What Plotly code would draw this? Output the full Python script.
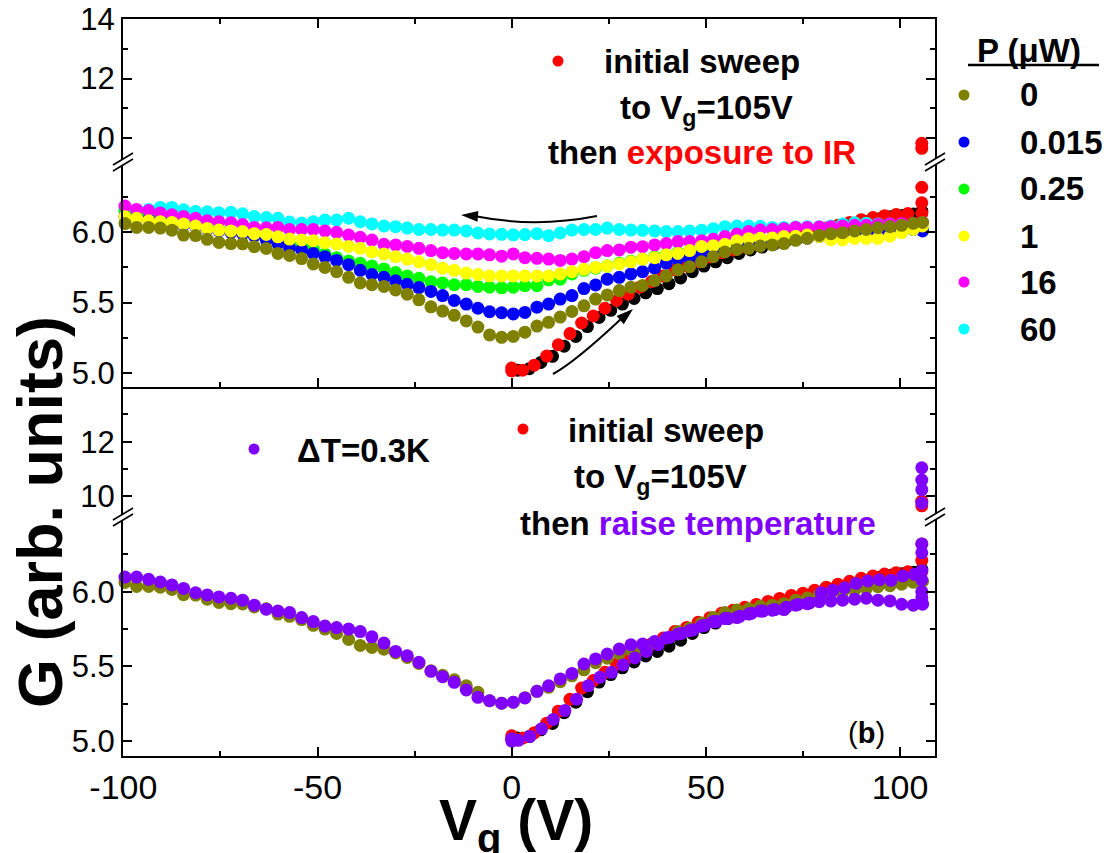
import plotly.graph_objects as go

# ---------------- data ----------------
# gate voltage grid of the return sweeps (V)
V_SWEEP = [-99.6, -96.6, -93.5, -90.5, -87.5, -84.5, -81.4, -78.4, -75.4, -72.3,
           -69.3, -66.3, -63.2, -60.2, -57.2, -54.1, -51.1, -48.1, -45.1, -42.0,
           -39.0, -36.0, -32.9, -29.9, -26.9, -23.9, -20.8, -17.8, -14.8, -11.7,
           -8.7, -5.7, -2.6, 0.4, 3.4, 6.5, 9.5, 12.5, 15.5, 18.6,
           21.6, 24.6, 27.7, 30.7, 33.7, 36.8, 39.8, 42.8, 45.8, 48.9,
           51.9, 54.9, 58.0, 61.0, 64.0, 67.1, 70.1, 73.1, 76.1, 79.2,
           82.2, 85.2, 88.3, 91.3, 94.3, 97.4, 100.4, 103.4, 105.8]

# conductance after IR exposure, one list per power P (uW)
G_P0 = [6.062, 6.035, 6.035, 6.03, 6.015, 5.98, 5.977, 5.95, 5.928, 5.92,
        5.918, 5.898, 5.885, 5.85, 5.835, 5.813, 5.775, 5.75, 5.72, 5.68,
        5.64, 5.627, 5.615, 5.59, 5.56, 5.52, 5.47, 5.44, 5.41, 5.37,
        5.326, 5.27, 5.253, 5.26, 5.29, 5.333, 5.36, 5.397, 5.437, 5.477,
        5.525, 5.555, 5.586, 5.61, 5.622, 5.657, 5.69, 5.733, 5.756, 5.79,
        5.827, 5.86, 5.878, 5.886, 5.902, 5.91, 5.92, 5.943, 5.957, 5.978,
        5.99, 5.997, 6.01, 6.02, 6.033, 6.04, 6.05, 6.064, 6.07]
G_P0015 = [6.11, 6.10, 6.09, 6.08, 6.07, 6.055, 6.04, 6.025, 6.01, 6.0,
           5.99, 5.974, 5.945, 5.92, 5.89, 5.875, 5.85, 5.827, 5.80, 5.77,
           5.73, 5.70, 5.68, 5.655, 5.63, 5.607, 5.58, 5.55, 5.515, 5.49,
           5.46, 5.435, 5.428, 5.42, 5.43, 5.468, 5.49, 5.525, 5.55, 5.60,
           5.626, 5.667, 5.68, 5.704, 5.72, 5.745, 5.78, 5.81, 5.815, 5.84,
           5.85, 5.87, 5.885, 5.90, 5.915, 5.925, 5.94, 5.95, 5.96, 5.97,
           5.98, 5.99, 5.995, 6.0, 6.005, 6.01, 6.015, 6.02, 6.01]
G_P025 = [6.153, 6.13, 6.115, 6.10, 6.085, 6.07, 6.055, 6.04, 6.025, 6.01,
          5.995, 5.98, 5.965, 5.945, 5.925, 5.905, 5.88, 5.846, 5.82, 5.796,
          5.78, 5.76, 5.74, 5.714, 5.69, 5.673, 5.648, 5.64, 5.627, 5.627,
          5.615, 5.61, 5.605, 5.61, 5.62, 5.62, 5.662, 5.667, 5.704, 5.73,
          5.745, 5.76, 5.78, 5.795, 5.81, 5.825, 5.84, 5.855, 5.87, 5.885,
          5.895, 5.905, 5.915, 5.925, 5.935, 5.945, 5.955, 5.96, 5.965, 5.975,
          5.985, 5.99, 5.995, 6.0, 6.005, 6.01, 6.015, 6.02, 6.03]
G_P1 = [6.11, 6.10, 6.082, 6.075, 6.07, 6.06, 6.045, 6.028, 6.016, 6.01,
        6.005, 5.99, 5.985, 5.968, 5.952, 5.946, 5.94, 5.926, 5.917, 5.90,
        5.886, 5.86, 5.846, 5.827, 5.81, 5.79, 5.77, 5.745, 5.73, 5.71,
        5.70, 5.69, 5.69, 5.69, 5.69, 5.69, 5.69, 5.704, 5.72, 5.737,
        5.75, 5.76, 5.775, 5.79, 5.81, 5.82, 5.84, 5.85, 5.87, 5.90,
        5.905, 5.915, 5.94, 5.955, 5.957, 5.96, 5.97, 5.972, 5.98, 5.97,
        5.948, 5.946, 5.957, 5.957, 5.957, 5.972, 5.997, 6.02, 6.045]
G_P16 = [6.187, 6.163, 6.155, 6.138, 6.125, 6.113, 6.10, 6.082, 6.075, 6.068,
         6.055, 6.035, 6.032, 6.035, 6.02, 6.02, 6.02, 6.01, 6.0, 5.98,
         5.964, 5.945, 5.915, 5.91, 5.90, 5.886, 5.87, 5.855, 5.85, 5.846,
         5.846, 5.84, 5.83, 5.846, 5.82, 5.815, 5.81, 5.80, 5.81, 5.827,
         5.855, 5.87, 5.875, 5.894, 5.898, 5.91, 5.92, 5.934, 5.934, 5.94,
         5.95, 5.97, 5.988, 6.005, 6.016, 6.02, 6.025, 6.035, 6.035, 6.038,
         6.04, 6.045, 6.05, 6.05, 6.055, 6.06, 6.062, 6.065, 6.07]
G_P60 = [6.165, 6.158, 6.163, 6.177, 6.177, 6.16, 6.148, 6.146, 6.14, 6.142,
         6.132, 6.112, 6.105, 6.10, 6.073, 6.066, 6.075, 6.087, 6.087, 6.10,
         6.075, 6.06, 6.045, 6.04, 6.03, 6.02, 6.02, 6.016, 6.016, 6.01,
         5.995, 5.988, 5.986, 5.982, 5.984, 5.99, 5.976, 5.995, 6.016, 6.02,
         6.02, 6.03, 6.02, 6.016, 6.014, 6.01, 6.005, 6.005, 6.01, 6.015,
         6.025, 6.04, 6.045, 6.045, 6.043, 6.035, 6.035, 6.038, 6.04, 6.04,
         6.045, 6.06, 6.068, 6.065, 6.06, 6.06, 6.058, 6.06, 6.06]

# initial sweep 0 -> 105 V (red) and its companion run (black)
RED_V = [0, 0, 2.8, 5.8, 9, 12, 15, 18, 21, 24, 27, 30, 33, 36, 39, 42, 45, 48,
         51, 54, 57, 60, 63, 66, 69, 72, 75, 78, 81, 84, 87, 90, 93, 96, 99, 102,
         105.6, 105.6, 105.6]
RED_G = [5.035, 5.015, 5.02, 5.055, 5.12, 5.20, 5.28, 5.355, 5.405, 5.46, 5.515,
         5.56, 5.61, 5.65, 5.69, 5.733, 5.76, 5.795, 5.825, 5.855, 5.875, 5.895,
         5.915, 5.935, 5.955, 5.975, 5.99, 6.01, 6.03, 6.05, 6.07, 6.09, 6.105,
         6.118, 6.127, 6.133, 6.135, 6.21, 6.32]
RED_HI_V = [105.6, 105.6]
RED_HI_G = [9.66, 9.83]

BLACK_V = [1.5, 4.5, 7.5, 10.5, 13.5, 16.5, 19.5, 22.5, 25.5, 28.5, 31.5, 34.5,
           37.5, 40.5, 43.5, 46.5, 49.5, 52.5, 55.5, 58.5, 61.5, 64.5, 67.5, 70.5,
           73.5, 76.5, 79.5, 82.5, 85.5, 88.5, 91.5, 94.5, 97.5, 100.5, 103.5, 105.6]
BLACK_G = [5.02, 5.03, 5.075, 5.118, 5.19, 5.26, 5.33, 5.395, 5.445, 5.49, 5.53,
           5.57, 5.60, 5.635, 5.675, 5.72, 5.76, 5.79, 5.82, 5.85, 5.875, 5.895,
           5.915, 5.935, 5.955, 5.975, 5.995, 6.015, 6.035, 6.055, 6.075, 6.095,
           6.11, 6.12, 6.13, 6.15]

# temperature raised by 0.3 K: up sweep, return sweep and the 105 V column
DT_UP_V = [0, 0, 1.7, 4.7, 7.7, 10.7, 13.7, 16.7, 19.7, 22.7, 25.7, 28.7, 31.7,
           34.7, 37.7, 40.7, 43.7, 46.7, 49.7, 52.7, 55.7, 58.7, 61.7, 64.7, 67.7,
           70.7, 73.7, 76.7, 79.7, 82.7, 85.7, 88.7, 91.7, 94.7, 97.7, 100.7, 103.7]
DT_UP_G = [5.0, 5.015, 5.005, 5.031, 5.082, 5.145, 5.205, 5.28, 5.37, 5.427, 5.46,
           5.51, 5.556, 5.60, 5.645, 5.695, 5.72, 5.745, 5.775, 5.80, 5.82, 5.835,
           5.855, 5.87, 5.88, 5.895, 5.915, 5.925, 5.993, 6.01, 6.027, 6.055,
           6.072, 6.08, 6.076, 6.105, 6.116]
DT_DOWN_G = [6.098, 6.098, 6.083, 6.065, 6.045, 6.022, 5.993, 5.978, 5.965, 5.956,
             5.943, 5.91, 5.883, 5.87, 5.86, 5.827, 5.80, 5.77, 5.76, 5.75,
             5.733, 5.698, 5.656, 5.60, 5.571, 5.527, 5.467, 5.431, 5.393, 5.342,
             5.293, 5.27, 5.253, 5.26, 5.289, 5.333, 5.37, 5.416, 5.453, 5.516,
             5.55, 5.583, 5.616, 5.644, 5.649, 5.667, 5.69, 5.716, 5.738, 5.77,
             5.80, 5.82, 5.827, 5.85, 5.87, 5.876, 5.88, 5.91, 5.92, 5.933,
             5.938, 5.943, 5.95, 5.956, 5.943, 5.938, 5.916, 5.91, 5.916]
DT_COL_V = [105.6, 105.6, 105.6, 105.6, 105.6, 105.6, 105.6]
DT_COL_G = [6.32, 6.26, 6.14, 6.08, 6.0, 5.96, 5.93]
DT_HI_V = [105.6, 105.6, 105.6, 105.6]
DT_HI_G = [9.76, 10.25, 10.6, 11.05]

POWER_LABELS = ["0", "0.015", "0.25", "1", "16", "60"]
POWER_COLORS = ["#808000", "#0000ff", "#00ff00", "#ffff00", "#ff00ff", "#00ffff"]
PURPLE = "#8000ff"

X_TICKS = [-100, -50, 0, 50, 100]
X_TICKTEXT = ["-100", "-50", "0", "50", "100"]
X_MINOR = [-75, -25, 25, 75]
LO_TICKS = [5.0, 5.5, 6.0]
LO_MINOR = [5.25, 5.75, 6.25]

# ---------------- geometry helpers ----------------
W, H = 1104, 853
ML, MR, MT, MB = 123, 169, 19, 97
PW, PH = W - ML - MR, H - MT - MB
FONT = "Liberation Sans, Arial, sans-serif"
TICK_FONT = "Liberation Sans Narrow, Arial Narrow, Liberation Sans, sans-serif"


def px(x):
    return (x - ML) / PW


def py(y):
    return (H - MB - y) / PH


def dots(x, y, color, xa, ya, size=13):
    return go.Scatter(x=x, y=y, mode="markers", xaxis=xa, yaxis=ya,
                      marker=dict(color=color, size=size, line=dict(width=0)),
                      cliponaxis=False, showlegend=False, hoverinfo="skip")


fig = go.Figure()

# top panel, lower segment
fig.add_trace(dots(BLACK_V, BLACK_G, "black", "x2", "y3"))
fig.add_trace(dots(RED_V, RED_G, "#ff0000", "x2", "y3"))
for g, c in [(G_P60, POWER_COLORS[5]), (G_P025, POWER_COLORS[2]),
             (G_P0015, POWER_COLORS[1]), (G_P16, POWER_COLORS[4]),
             (G_P1, POWER_COLORS[3]), (G_P0, POWER_COLORS[0])]:
    fig.add_trace(dots(V_SWEEP, g, c, "x2", "y3"))
# top panel, upper segment
fig.add_trace(dots(RED_HI_V, RED_HI_G, "#ff0000", "x3", "y4"))

# bottom panel, lower segment
fig.add_trace(dots(BLACK_V, BLACK_G, "black", "x", "y"))
fig.add_trace(dots(RED_V, RED_G, "#ff0000", "x", "y"))
fig.add_trace(dots(V_SWEEP, G_P0, POWER_COLORS[0], "x", "y"))
fig.add_trace(dots(V_SWEEP, DT_DOWN_G, PURPLE, "x", "y"))
fig.add_trace(dots(DT_UP_V, DT_UP_G, PURPLE, "x", "y"))
fig.add_trace(dots(DT_COL_V, DT_COL_G, PURPLE, "x", "y"))
# bottom panel, upper segment
fig.add_trace(dots(RED_HI_V, RED_HI_G, "#ff0000", "x", "y2"))
fig.add_trace(dots(DT_HI_V, DT_HI_G, PURPLE, "x", "y2"))

ytickfont = dict(family=FONT, size=31, color="black")
xtickfont = dict(family=TICK_FONT, size=34, color="black")
base = dict(showgrid=False, zeroline=False, showline=True, linecolor="black",
            linewidth=2, ticks="inside", tickcolor="black", tickwidth=2,
            ticklen=9, automargin=False)
minor_style = dict(ticks="inside", ticklen=5, tickwidth=2, tickcolor="black")

xr = [-100.1, 109.0]
y_break_bot = py(517)
y_mid = py(387)
y_break_top = py(162)

fig.update_layout(
    width=W, height=H, margin=dict(l=ML, r=MR, t=MT, b=MB, autoexpand=False),
    paper_bgcolor="white", plot_bgcolor="rgba(0,0,0,0)",
    xaxis=dict(base, domain=[0, 1], range=xr, anchor="y", tickvals=X_TICKS,
               ticktext=X_TICKTEXT, tickfont=xtickfont, ticklabelstandoff=0,
               minor=dict(minor_style, tickvals=X_MINOR)),
    xaxis2=dict(base, domain=[0, 1], range=xr, anchor="y3", tickvals=X_TICKS,
                showticklabels=False, minor=dict(minor_style, tickvals=X_MINOR)),
    xaxis3=dict(base, domain=[0, 1], range=xr, anchor="y4", side="top",
                tickvals=X_TICKS, showticklabels=False,
                minor=dict(minor_style, tickvals=X_MINOR)),
    yaxis=dict(base, domain=[0, y_break_bot], range=[4.9, 6.5], anchor="x",
               tickvals=LO_TICKS, tickformat=".1f", mirror="ticks",
               tickfont=ytickfont, minor=dict(minor_style, tickvals=LO_MINOR)),
    yaxis2=dict(base, domain=[y_break_bot, y_mid], range=[9.25, 14], anchor="x",
                tickvals=[10, 12], mirror="ticks", tickfont=ytickfont,
                minor=dict(minor_style, tickvals=[11, 13])),
    yaxis3=dict(base, domain=[y_mid, y_break_top], range=[4.9, 6.5], anchor="x2",
                tickvals=LO_TICKS, tickformat=".1f", mirror="ticks",
                tickfont=ytickfont, minor=dict(minor_style, tickvals=LO_MINOR)),
    yaxis4=dict(base, domain=[y_break_top, 1], range=[9.2, 14], anchor="x3",
                tickvals=[10, 12, 14], mirror="ticks", tickfont=ytickfont,
                minor=dict(minor_style, tickvals=[11, 13])),
)

shapes = []


def seg(x0, y0, x1, y1, w=2):
    shapes.append(dict(type="line", xref="paper", yref="paper", layer="above",
                       x0=px(x0), y0=py(y0), x1=px(x1), y1=py(y1),
                       line=dict(color="black", width=w)))


def poly(pts, fill, w=0, closed=True):
    d = "M " + " L ".join(f"{px(a):.5f},{py(b):.5f}" for a, b in pts)
    if closed:
        d += " Z"
    shapes.append(dict(type="path", xref="paper", yref="paper", layer="above",
                       path=d, fillcolor=fill,
                       line=dict(color="black" if w else "rgba(0,0,0,0)", width=w)))


def qcurve(p0, c, p1, w=2):
    d = (f"M {px(p0[0]):.5f},{py(p0[1]):.5f} Q {px(c[0]):.5f},{py(c[1]):.5f} "
         f"{px(p1[0]):.5f},{py(p1[1]):.5f}")
    shapes.append(dict(type="path", xref="paper", yref="paper", layer="above",
                       path=d, line=dict(color="black", width=w)))


def arrowhead(tip, frm, length=17, half=5.5):
    dx, dy = tip[0] - frm[0], tip[1] - frm[1]
    n = (dx * dx + dy * dy) ** 0.5
    ux, uy = dx / n, dy / n
    bx, by = tip[0] - ux * length, tip[1] - uy * length
    poly([tip, (bx - uy * half, by + ux * half), (bx + uy * half, by - ux * half)],
         "black")


# axis breaks "//"
for bx in (ML, ML + PW):
    for by in (162, 517):
        dxs, dys, s = 10, 6, 6
        poly([(bx - dxs, by - s / 2 + dys), (bx + dxs, by - s / 2 - dys),
              (bx + dxs, by + s / 2 - dys), (bx - dxs, by + s / 2 + dys)], "white")
        seg(bx - dxs, by - s / 2 + dys, bx + dxs, by - s / 2 - dys, 1.6)
        seg(bx - dxs, by + s / 2 + dys, bx + dxs, by + s / 2 - dys, 1.6)

# sweep-direction arrows
qcurve((597, 216), (536, 228), (477, 216.5))
arrowhead((461, 215), (477, 216.3))
qcurve((553, 374), (575, 362), (621, 319))
arrowhead((633, 309), (621, 319.5))


# legend markers
def disc(cx, cy, color, r=5.5):
    shapes.append(dict(type="circle", xref="paper", yref="paper", layer="above",
                       x0=px(cx - r), x1=px(cx + r), y0=py(cy + r), y1=py(cy - r),
                       fillcolor=color, line=dict(width=0)))


LEG_Y = [95, 142, 189, 236, 282, 329]
for c, ly in zip(POWER_COLORS, LEG_Y):
    disc(964, ly, c)
disc(558, 61, "#ff0000")
disc(523, 429, "#ff0000")
disc(254, 449, PURPLE)
seg(968, 65, 1099, 65, 2.5)

fig.update_layout(shapes=shapes)

ann = []


def text(cx, cy, s, size=33, anchor="center", angle=0):
    ann.append(dict(xref="paper", yref="paper", x=px(cx), y=py(cy), text=s,
                    showarrow=False, xanchor=anchor, yanchor="middle",
                    textangle=angle,
                    font=dict(family=FONT, size=size, color="black")))


text(702, 62, "<b>initial sweep</b>")
text(706, 110, "<b>to V<sub>g</sub>=105V</b>")
text(702, 153, "<b>then <span style='color:#ff0000'>exposure to IR</span></b>")
text(1029, 50, "<b>P (μW)</b>")
for lab, ly in zip(POWER_LABELS, LEG_Y):
    text(1018, ly, f"<b>{lab}</b>", anchor="left")

text(363, 450, "<b>ΔT=0.3K</b>")
text(666, 430, "<b>initial sweep</b>")
text(660, 479, "<b>to V<sub>g</sub>=105V</b>")
text(698, 523, f"<b>then <span style='color:{PURPLE}'>raise temperature</span></b>")
text(866, 733, "(<b>b</b>)", size=29)

text(40, 512, "<b>G (arb. units)</b>", size=63, angle=-90)
text(516, 824, "<b>V<sub>g</sub> (V)</b>", size=57)

fig.update_layout(annotations=ann)

fig.write_html("out.html")
